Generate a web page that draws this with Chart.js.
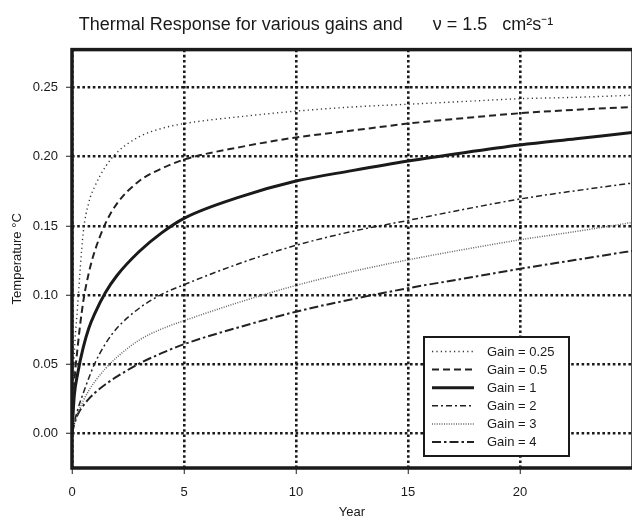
<!DOCTYPE html>
<html>
<head>
<meta charset="utf-8">
<script src="https://cdn.jsdelivr.net/npm/chart.js@4/dist/chart.umd.min.js"></script>
<style>
html,body{margin:0;padding:0;background:#fff;}
#wrap{width:632px;height:519px;position:relative;}
</style>
</head>
<body>
<div id="wrap"><canvas id="c" width="632" height="519"></canvas></div>
<script>
const years   = [0, 0.1, 0.25, 0.5, 0.75, 1, 1.5, 2, 3, 4, 5, 7.5, 10, 12.5, 15, 17.5, 20, 22.5, 25];
const gain025 = [0, 0.055, 0.092, 0.145, 0.167, 0.178, 0.193, 0.203, 0.2145, 0.2205, 0.224, 0.229, 0.233, 0.236, 0.238, 0.240, 0.242, 0.243, 0.2445];
const gain05  = [0, 0.035, 0.062, 0.095, 0.116, 0.131, 0.152, 0.166, 0.1825, 0.1915, 0.198, 0.207, 0.214, 0.219, 0.224, 0.228, 0.2315, 0.234, 0.236];
const gain1   = [0, 0.027, 0.043, 0.062, 0.076, 0.086, 0.102, 0.114, 0.1315, 0.145, 0.1555, 0.171, 0.1825, 0.190, 0.197, 0.203, 0.2085, 0.213, 0.2175];
const gain2   = [0, 0.008, 0.017, 0.029, 0.040, 0.050, 0.065, 0.076, 0.0905, 0.1005, 0.1075, 0.123, 0.136, 0.146, 0.154, 0.162, 0.1695, 0.1755, 0.181];
const gain3   = [0, 0.006, 0.014, 0.0235, 0.031, 0.037, 0.047, 0.055, 0.0675, 0.0755, 0.0815, 0.095, 0.107, 0.117, 0.1255, 0.133, 0.140, 0.146, 0.1525];
const gain4   = [0, 0.0065, 0.0135, 0.020, 0.025, 0.029, 0.0355, 0.041, 0.0505, 0.058, 0.0645, 0.077, 0.088, 0.097, 0.105, 0.112, 0.119, 0.1255, 0.132];
const seriesLabels = ['Gain = 0.25', 'Gain = 0.5', 'Gain = 1', 'Gain = 2', 'Gain = 3', 'Gain = 4'];
const xTicks = [0, 5, 10, 15, 20];
const yTicks = [0, 0.05, 0.10, 0.15, 0.20, 0.25];

const styles = [
  {color:'#333', width:1.4, dash:[1.2, 3.2]},
  {color:'#222', width:2,   dash:[7, 4]},
  {color:'#1a1a1a', width:3, dash:[]},
  {color:'#222', width:1.5, dash:[6, 3, 2, 3]},
  {color:'#666', width:1.5, dash:[1, 1.4]},
  {color:'#222', width:2,   dash:[9, 3, 2.5, 3]}
];
const values = [gain025, gain05, gain1, gain2, gain3, gain4];
const FONT = "'Liberation Sans', Arial, Helvetica, sans-serif";

const datasets = values.map((vals, i) => ({
  label: seriesLabels[i],
  data: years.map((x, j) => ({x: x, y: vals[j]})),
  borderColor: styles[i].color,
  borderWidth: styles[i].width,
  borderDash: styles[i].dash,
  pointRadius: 0,
  fill: false,
  cubicInterpolationMode: 'monotone'
}));

const framePlugin = {
  id: 'frame',
  afterDraw(chart) {
    const {ctx, chartArea: a} = chart;
    ctx.save();
    ctx.strokeStyle = '#1a1a1a';
    ctx.lineWidth = 3.5;
    ctx.setLineDash([]);
    ctx.strokeRect(a.left, a.top, a.right - a.left + 1, a.bottom - a.top);
    // legend box
    const bx = 424, by = 337, bw = 145, bh = 119;
    ctx.fillStyle = '#fff';
    ctx.fillRect(bx, by, bw, bh);
    ctx.lineWidth = 2;
    ctx.strokeStyle = '#1a1a1a';
    ctx.strokeRect(bx, by, bw, bh);
    ctx.font = '13px ' + FONT;
    ctx.textBaseline = 'middle';
    ctx.textAlign = 'left';
    chart.data.datasets.forEach((ds, i) => {
      const y = 351.5 + i * 18.1;
      ctx.beginPath();
      ctx.strokeStyle = ds.borderColor;
      ctx.lineWidth = ds.borderWidth;
      ctx.setLineDash(ds.borderDash);
      ctx.moveTo(432, y);
      ctx.lineTo(474, y);
      ctx.stroke();
      ctx.setLineDash([]);
      ctx.fillStyle = '#1a1a1a';
      ctx.fillText(ds.label, 487, y + 0.5);
    });
    ctx.restore();
  }
};

const gridOpts = {
  color: '#1a1a1a', lineWidth: 2.6,
  drawTicks: true, tickLength: 6, tickColor: '#444', tickWidth: 1.2, tickBorderDash: []
};

new Chart(document.getElementById('c'), {
  type: 'line',
  data: {datasets},
  options: {
    responsive: false,
    animation: false,
    events: [],
    layout: {padding: 0},
    plugins: {
      legend: {display: false},
      tooltip: {enabled: false},
      title: {
        display: true,
        text: 'Thermal Response for various gains and      \u03BD = 1.5   cm\u00B2s\u207B\u00B9',
        color: '#1a1a1a',
        font: {family: FONT, size: 18, weight: 'normal', lineHeight: 1.2},
        padding: {top: 14, bottom: 14}
      }
    },
    scales: {
      x: {
        type: 'linear',
        min: 0, max: 25,
        afterBuildTicks: s => { s.ticks = xTicks.map(v => ({value: v})); },
        afterFit: s => { s.height = 51; },
        border: {display: false, dash: [2.6, 2.6]},
        grid: gridOpts,
        ticks: {color: '#1a1a1a', font: {family: FONT, size: 13}, padding: 11, maxRotation: 0,
                callback: v => String(v)},
        title: {display: true, text: 'Year', color: '#1a1a1a',
                font: {family: FONT, size: 13, lineHeight: 1}, padding: {top: 0, bottom: 0}}
      },
      y: {
        type: 'linear',
        min: -0.025, max: 0.2775,
        afterBuildTicks: s => { s.ticks = yTicks.map(v => ({value: v})); },
        afterFit: s => { s.width = 72; },
        border: {display: false, dash: [2.6, 2.6]},
        grid: gridOpts,
        ticks: {color: '#1a1a1a', font: {family: FONT, size: 13}, padding: 8,
                callback: v => Number(v).toFixed(2)},
        title: {display: true, text: 'Temperature \u00B0C', color: '#1a1a1a',
                font: {family: FONT, size: 13, lineHeight: 1.2}, padding: {top: 10, bottom: 0}}
      }
    }
  },
  plugins: [framePlugin]
});
</script>
</body>
</html>
